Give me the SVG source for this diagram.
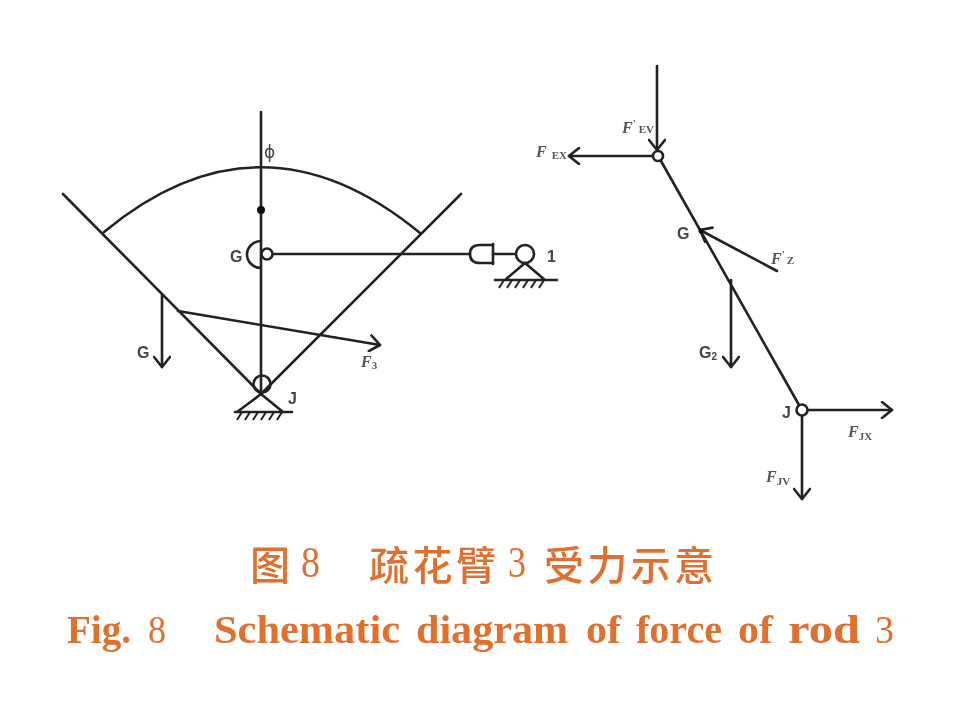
<svg xmlns="http://www.w3.org/2000/svg" width="980" height="701" viewBox="0 0 980 701">
<style>
.l{fill:none;stroke:#222;stroke-width:2.6;stroke-linecap:round;stroke-linejoin:round}
.o{fill:#fff;stroke:#222;stroke-width:2.6}
.a{font-family:"Liberation Sans",sans-serif;font-weight:bold;fill:#444;font-size:16px}
.f{font-family:"Liberation Serif",serif;font-style:italic;font-weight:bold;fill:#555;font-size:16px}
.s{font-size:11px;font-style:normal}
.c{font-family:"Noto Sans CJK SC",sans-serif;font-weight:500;fill:#df6f2f;font-size:40px}
.e{font-family:"Liberation Serif",serif;fill:#df6f2f}
.b{font-weight:bold;font-size:40px}
</style>
<defs>
<marker id="h" viewBox="0 0 18 18" refX="12" refY="9" markerWidth="18" markerHeight="18" markerUnits="userSpaceOnUse" orient="auto">
<path d="M2 1 L12 9 L2 17" fill="none" stroke="#222" stroke-width="2.6" stroke-linecap="round" stroke-linejoin="round"/>
</marker>
<path id="hatch" d="M0 0 l-5 8 M8 0 l-5 8 M16 0 l-5 8 M24 0 l-5 8 M32 0 l-5 8 M40 0 l-5 8" fill="none" stroke="#222" stroke-width="2"/>
<filter id="soft" filterUnits="userSpaceOnUse" x="0" y="0" width="980" height="701"><feGaussianBlur stdDeviation="0.5"/></filter>
</defs>
<rect width="980" height="701" fill="#fff"/>
<g filter="url(#soft)">
<g id="connectors">
<path class="l" d="M261 112 V393"/>
<path class="l" d="M104 232 Q261 102 420 233"/>
<path class="l" d="M63 194 L261 394 L461 194"/>
<path class="l" d="M272 254 H470"/>
<path class="l" d="M493 254 H516"/>
<path class="l" d="M178 311 L380 345" marker-end="url(#h)"/>
<path class="l" d="M162 295 V367" marker-end="url(#h)"/>
<path class="l" d="M657 66 V150" marker-end="url(#h)"/>
<path class="l" d="M652 156 H569" marker-end="url(#h)"/>
<path class="l" d="M661 161 L799 405"/>
<path class="l" d="M777 271 L700 230" marker-end="url(#h)"/>
<path class="l" d="M731 280 V367" marker-end="url(#h)"/>
<path class="l" d="M807 410 H892" marker-end="url(#h)"/>
<path class="l" d="M802 415 V499" marker-end="url(#h)"/>
</g>
<g id="node-phi"><text x="264" y="158" font-family="'DejaVu Sans',sans-serif" font-size="17" fill="#444">ϕ</text></g>
<g id="node-dot"><circle cx="261" cy="210" r="4" fill="#111"/></g>
<g id="node-G-left">
<path class="l" d="M261 241 A14 13.500 0 0 0 261 268"/>
<circle class="o" cx="267" cy="254" r="5.500"/>
<text class="a" x="230" y="262">G</text>
</g>
<g id="node-slider">
<path class="l" d="M493 245 H480 Q470 245 470 254 Q470 263 480 263 H493"/>
<path class="l" d="M493 244 V264"/>
</g>
<g id="node-1">
<circle class="o" cx="525" cy="254" r="9"/>
<path class="l" d="M525 263 L505 280 M525 263 L545 280 M495 280 H557"/>
<use href="#hatch" x="504" y="280"/>
<text class="a" x="547" y="262">1</text>
</g>
<g id="node-J-left">
<circle class="l" cx="262" cy="384" r="8.500"/>
<path class="l" d="M261 394 L237 412 M261 394 L283 412 M235 412 H292"/>
<use href="#hatch" x="242" y="412"/>
<text class="a" x="288" y="404">J</text>
</g>
<g id="label-G-weight"><text class="a" x="137" y="358">G</text></g>
<g id="label-F3"><text class="f" x="361" y="367">F<tspan class="s" dy="2">3</tspan></text></g>
<g id="node-E">
<circle class="o" cx="658" cy="156" r="5"/>
<text class="f" x="622" y="133">F<tspan class="s" dy="-6">'</tspan><tspan class="s" dy="6" dx="3">EV</tspan></text>
<text class="f" x="536" y="157">F<tspan class="s" dx="5" dy="2">EX</tspan></text>
</g>
<g id="node-G-right">
<circle cx="701" cy="231" r="2.500" fill="#111"/>
<text class="a" x="677" y="239">G</text>
<text class="f" x="771" y="264">F<tspan class="s" dy="-6">'</tspan><tspan class="s" dy="6" dx="2">Z</tspan></text>
</g>
<g id="label-G2"><text class="a" x="699" y="358" font-size="15">G<tspan font-size="10" dy="2">2</tspan></text></g>
<g id="node-J-right">
<circle class="o" cx="802" cy="410" r="5.500"/>
<text class="a" x="782" y="418">J</text>
<text class="f" x="848" y="437">F<tspan class="s" dy="3">JX</tspan></text>
<text class="f" x="766" y="482">F<tspan class="s" dy="3">JV</tspan></text>
</g>
<g id="caption">
<text class="c" x="250" y="580">图</text>
<text class="e" x="301" y="577" font-size="44" textLength="19" lengthAdjust="spacingAndGlyphs">8</text>
<text class="c" x="369" y="580" textLength="127" lengthAdjust="spacing">疏花臂</text>
<text class="e" x="508" y="577" font-size="44" textLength="18" lengthAdjust="spacingAndGlyphs">3</text>
<text class="c" x="544" y="580" textLength="170" lengthAdjust="spacing">受力示意</text>
<text class="e b" x="67" y="643" textLength="64" lengthAdjust="spacingAndGlyphs">Fig.</text>
<text class="e" x="148" y="643" font-size="40" textLength="18" lengthAdjust="spacingAndGlyphs">8</text>
<text class="e b" x="214" y="643" textLength="186" lengthAdjust="spacingAndGlyphs">Schematic</text>
<text class="e b" x="416" y="643" textLength="152" lengthAdjust="spacingAndGlyphs">diagram</text>
<text class="e b" x="586" y="643" textLength="35" lengthAdjust="spacingAndGlyphs">of</text>
<text class="e b" x="636" y="643" textLength="86" lengthAdjust="spacingAndGlyphs">force</text>
<text class="e b" x="738" y="643" textLength="35" lengthAdjust="spacingAndGlyphs">of</text>
<text class="e b" x="788" y="643" textLength="72" lengthAdjust="spacingAndGlyphs">rod</text>
<text class="e" x="875" y="643" font-size="40" textLength="19" lengthAdjust="spacingAndGlyphs">3</text>
</g>
</g>
</svg>
